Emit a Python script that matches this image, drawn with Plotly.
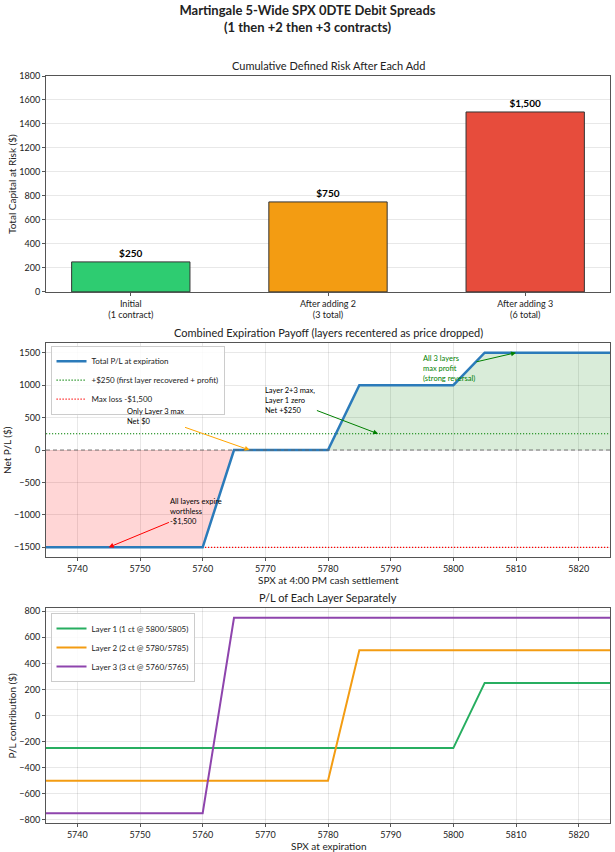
import numpy as np
import plotly.graph_objects as go
from plotly.subplots import make_subplots

# --- data ---
stages = ["Initial<br>(1 contract)", "After adding 2<br>(3 total)", "After adding 3<br>(6 total)"]
cum_risk = [250, 750, 1500]
stage_colors = ["#2ecc71", "#f39c12", "#e74c3c"]

# breakpoints of the expiration payoffs (SPX level, P/L $)
spx_total = [5735, 5760, 5765, 5780, 5785, 5800, 5805, 5825]
pl_total = [-1500, -1500, 0, 0, 1000, 1000, 1500, 1500]

spx_l1 = [5735, 5800, 5805, 5825]
pl_l1 = [-250, -250, 250, 250]
spx_l2 = [5735, 5780, 5785, 5825]
pl_l2 = [-500, -500, 500, 500]
spx_l3 = [5735, 5760, 5765, 5825]
pl_l3 = [-750, -750, 750, 750]

target_pl = 250
max_loss = -1500

FONT = "Lato"
GRID = "rgba(0,0,0,0.09)"
SPINE = "#555555"
ZERO = dict(color="#666666", width=0.9, dash="4px,3px")
DOTS = "1.2px,1.8px"

fig = make_subplots(rows=3, cols=1)

# 1. bars
fig.add_trace(go.Bar(
    x=stages, y=cum_risk, marker=dict(color=stage_colors, line=dict(color="#333333", width=1)),
    width=0.6, text=[f"<b>${v:,}</b>" for v in cum_risk], textposition="outside",
    textfont=dict(size=10, color="black"), cliponaxis=False, showlegend=False,
), row=1, col=1)

# 2. combined payoff
tot = np.array(pl_total)
fig.add_trace(go.Scatter(x=spx_total, y=np.minimum(tot, 0), mode="lines", line=dict(width=0),
                         fill="tozeroy", fillcolor="rgba(255,0,0,0.16)", showlegend=False,
                         hoverinfo="skip"), row=2, col=1)
fig.add_trace(go.Scatter(x=spx_total, y=np.maximum(tot, 0), mode="lines", line=dict(width=0),
                         fill="tozeroy", fillcolor="rgba(0,128,0,0.15)", showlegend=False,
                         hoverinfo="skip"), row=2, col=1)
fig.add_hline(y=0, line=ZERO, row=2, col=1)
x_span = [min(spx_total), max(spx_total)]
fig.add_trace(go.Scatter(x=x_span, y=[target_pl] * 2, mode="lines",
                         name="+$250 (first layer recovered + profit)",
                         line=dict(color="green", width=1.1, dash=DOTS), legend="legend"), row=2, col=1)
fig.add_trace(go.Scatter(x=x_span, y=[max_loss] * 2, mode="lines", name="Max loss -$1,500",
                         line=dict(color="red", width=1.1, dash=DOTS), legend="legend"), row=2, col=1)
fig.add_trace(go.Scatter(x=spx_total, y=pl_total, mode="lines", name="Total P/L at expiration",
                         line=dict(color="#2b7bba", width=2.5), legend="legend",
                         legendrank=1), row=2, col=1)

# 3. individual layers
fig.add_hline(y=0, line=ZERO, row=3, col=1)
for xs, ys, nm, col in [(spx_l1, pl_l1, "Layer 1 (1 ct @ 5800/5805)", "#27ae60"),
                        (spx_l2, pl_l2, "Layer 2 (2 ct @ 5780/5785)", "#f39c12"),
                        (spx_l3, pl_l3, "Layer 3 (3 ct @ 5760/5765)", "#8e44ad")]:
    fig.add_trace(go.Scatter(x=xs, y=ys, mode="lines", name=nm, line=dict(color=col, width=2),
                             legend="legend2"), row=3, col=1)

# annotations with arrows
notes = [
    ("All layers expire<br>worthless<br>-$1,500", 5745, max_loss, 5759, -940, "red", "black"),
    ("Only Layer 3 max<br>Net $0", 5767.5, 0, 5752.4, 512, "orange", "black"),
    ("Layer 2+3 max,<br>Layer 1 zero<br>Net +$250", 5788, target_pl, 5774, 765, "green", "black"),
    ("All 3 layers<br>max profit<br>(strong reversal)", 5810, 1500, 5799.3, 1262, "green", "green"),
]
for txt, hx, hy, tx, ty, acol, tcol in notes:
    fig.add_annotation(x=hx, y=hy, ax=tx, ay=ty, xref="x2", yref="y2", axref="x2", ayref="y2",
                       text=txt, showarrow=True, arrowhead=2, arrowsize=1, arrowwidth=1,
                       arrowcolor=acol, align="left", font=dict(size=7.5, color=tcol, family=FONT))

# panel titles and axis titles
doms = [[0.711, 1.0], [0.356, 0.6426], [0.0, 0.2878]]
titles = ["Cumulative Defined Risk After Each Add",
          "Combined Expiration Payoff (layers recentered as price dropped)",
          "P/L of Each Layer Separately"]
for d, t in zip(doms, titles):
    fig.add_annotation(x=0.5, y=d[1], xref="paper", yref="paper", xanchor="center", yanchor="bottom",
                       yshift=2, text=t, showarrow=False, font=dict(size=11, family=FONT, color="#222222"))
for d, t in zip(doms[1:], ["SPX at 4:00 PM cash settlement", "SPX at expiration"]):
    fig.add_annotation(x=0.5, y=d[0], xref="paper", yref="paper", xanchor="center", yanchor="middle",
                       yshift=-23, text=t, showarrow=False, font=dict(size=10, family=FONT, color="#222222"))
for d, t, sh in zip(doms, ["Total Capital at Risk ($)", "Net P/L ($)", "P/L contribution ($)"],
                    [-34, -39, -34]):
    fig.add_annotation(x=0, y=(d[0] + d[1]) / 2, xref="paper", yref="paper", xanchor="center",
                       yanchor="middle", xshift=sh, textangle=-90, text=t, showarrow=False,
                       font=dict(size=10, family=FONT, color="#222222"))

# layout
fig.update_layout(
    width=615, height=852,
    margin=dict(l=46, r=5, t=76, b=29),
    paper_bgcolor="white", plot_bgcolor="white",
    font=dict(family=FONT, size=9, color="#222222"),
    title=dict(text="<b>Martingale 5-Wide SPX 0DTE Debit Spreads<br>(1 then +2 then +3 contracts)</b>",
               x=0.5, xanchor="center", y=0.982, yanchor="top", font=dict(size=13, color="#222222")),
    yaxis=dict(domain=doms[0]),
    yaxis2=dict(domain=doms[1]),
    yaxis3=dict(domain=doms[2]),
    legend=dict(x=0.008, y=0.639, xanchor="left", yanchor="top", bgcolor="rgba(255,255,255,0.85)",
                bordercolor="#cccccc", borderwidth=1, font=dict(size=8), tracegroupgap=0,
                itemwidth=30),
    legend2=dict(x=0.008, y=0.281, xanchor="left", yanchor="top", bgcolor="rgba(255,255,255,0.85)",
                 bordercolor="#cccccc", borderwidth=1, font=dict(size=8), tracegroupgap=0,
                 itemwidth=30),
)

axis_common = dict(showline=True, linecolor=SPINE, mirror=True, ticks="outside", ticklen=3,
                   tickcolor=SPINE, zeroline=False, automargin=False)
fig.update_xaxes(**axis_common)
fig.update_yaxes(**axis_common)

fig.update_xaxes(showgrid=False, range=[-0.43, 2.43], row=1, col=1)
fig.update_yaxes(range=[0, 1800], dtick=200, gridcolor=GRID, row=1, col=1)
fig.update_xaxes(range=[5735, 5825], dtick=10, gridcolor=GRID, row=2, col=1)
fig.update_yaxes(range=[-1650, 1650], dtick=500, gridcolor=GRID, row=2, col=1)
fig.update_xaxes(range=[5735, 5825], dtick=10, gridcolor=GRID, row=3, col=1)
fig.update_yaxes(range=[-825, 825], dtick=200, gridcolor=GRID, row=3, col=1)

# drop the browser's default page margin so the figure sits at the top-left corner
fig.write_html("out.html", config={"displayModeBar": False},
               post_script="document.body.style.margin='0';")
